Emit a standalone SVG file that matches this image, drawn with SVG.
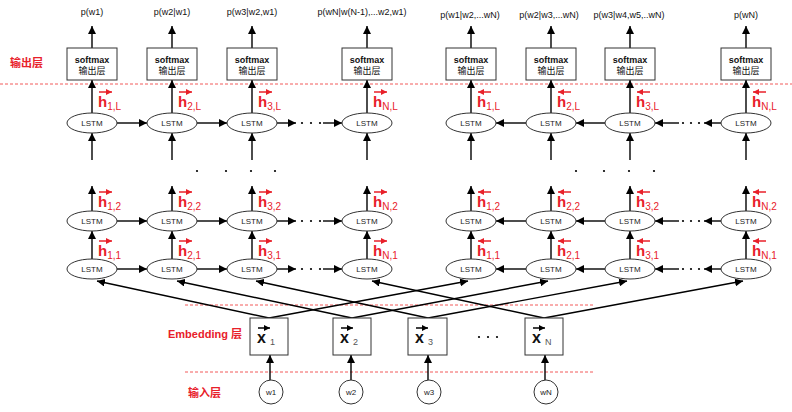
<svg xmlns="http://www.w3.org/2000/svg" width="792" height="412" viewBox="0 0 792 412">
<style>
text{font-family:"Liberation Sans","Noto Sans CJK SC",sans-serif}
.ell{fill:#fff;stroke:#333;stroke-width:1}
.box{fill:#fff;stroke:#333;stroke-width:1}
.lt{font-size:8px;fill:#222;text-anchor:middle}
.sm{font-size:9px;font-weight:bold;fill:#111;text-anchor:middle}
.cn{font-size:9px;fill:#111;text-anchor:middle;font-family:"Noto Sans CJK SC",sans-serif}
.pl{font-size:9px;fill:#111;text-anchor:middle}
.c{stroke:#000;stroke-width:1.4;fill:none;marker-end:url(#a)}
.h{font-size:15px;font-weight:bold;fill:#e8202a}
.hs{font-size:10px;font-weight:normal;fill:#e8202a}
.ha{stroke:#e8202a;stroke-width:1.5;fill:none;marker-end:url(#r)}
.xa{stroke:#000;stroke-width:1.5;fill:none;marker-end:url(#k)}
.rl{stroke:#f04848;stroke-width:0.9;stroke-dasharray:3,2;fill:none}
.lab{font-size:11px;font-weight:bold;fill:#e8202a;font-family:"Liberation Sans","Noto Sans CJK SC",sans-serif}
.dot{fill:#000}
</style>
<defs>
<marker id="a" viewBox="0 0 10 10" refX="10" refY="5" markerWidth="8" markerHeight="8" markerUnits="userSpaceOnUse" orient="auto"><path d="M0,0 L10,5 L0,10 z" fill="#000"/></marker>
<marker id="r" viewBox="0 0 10 10" refX="10" refY="5" markerWidth="6" markerHeight="6" markerUnits="userSpaceOnUse" orient="auto"><path d="M0,0 L10,5 L0,10 z" fill="#e8202a"/></marker>
<marker id="k" viewBox="0 0 10 10" refX="10" refY="5" markerWidth="6" markerHeight="6" markerUnits="userSpaceOnUse" orient="auto"><path d="M0,0 L10,5 L0,10 z" fill="#000"/></marker>
</defs>
<rect width="792" height="412" fill="#fff"/>

<!-- layer labels and dashed separators -->
<g id="layers">
<line class="rl" x1="0" y1="84" x2="792" y2="84"/>
<line class="rl" x1="185" y1="305" x2="593" y2="305"/>
<line class="rl" x1="185" y1="372" x2="593" y2="372"/>
<text class="lab" x="10" y="67">输出层</text>
<text class="lab" x="168" y="338">Embedding 层</text>
<text class="lab" x="188" y="397">输入层</text>
</g>

<!-- connectors -->
<g id="connectors">
<line class="c" x1="92" y1="48" x2="92" y2="26"/>
<line class="c" x1="172" y1="48" x2="172" y2="26"/>
<line class="c" x1="252" y1="48" x2="252" y2="26"/>
<line class="c" x1="367" y1="48" x2="367" y2="26"/>
<line class="c" x1="471" y1="48" x2="471" y2="26"/>
<line class="c" x1="551" y1="48" x2="551" y2="26"/>
<line class="c" x1="630" y1="48" x2="630" y2="26"/>
<line class="c" x1="746" y1="48" x2="746" y2="26"/>
<line class="c" x1="92" y1="113" x2="92" y2="80"/>
<line class="c" x1="172" y1="113" x2="172" y2="80"/>
<line class="c" x1="252" y1="113" x2="252" y2="80"/>
<line class="c" x1="367" y1="113" x2="367" y2="80"/>
<line class="c" x1="471" y1="113" x2="471" y2="80"/>
<line class="c" x1="551" y1="113" x2="551" y2="80"/>
<line class="c" x1="630" y1="113" x2="630" y2="80"/>
<line class="c" x1="746" y1="113" x2="746" y2="80"/>
<line class="c" x1="92" y1="160" x2="92" y2="133"/>
<line class="c" x1="172" y1="160" x2="172" y2="133"/>
<line class="c" x1="252" y1="160" x2="252" y2="133"/>
<line class="c" x1="367" y1="160" x2="367" y2="133"/>
<line class="c" x1="471" y1="160" x2="471" y2="133"/>
<line class="c" x1="551" y1="160" x2="551" y2="133"/>
<line class="c" x1="630" y1="160" x2="630" y2="133"/>
<line class="c" x1="746" y1="160" x2="746" y2="133"/>
<line class="c" x1="92" y1="211" x2="92" y2="186"/>
<line class="c" x1="172" y1="211" x2="172" y2="186"/>
<line class="c" x1="252" y1="211" x2="252" y2="186"/>
<line class="c" x1="367" y1="211" x2="367" y2="186"/>
<line class="c" x1="471" y1="211" x2="471" y2="186"/>
<line class="c" x1="551" y1="211" x2="551" y2="186"/>
<line class="c" x1="630" y1="211" x2="630" y2="186"/>
<line class="c" x1="746" y1="211" x2="746" y2="186"/>
<line class="c" x1="92" y1="259" x2="92" y2="231"/>
<line class="c" x1="172" y1="259" x2="172" y2="231"/>
<line class="c" x1="252" y1="259" x2="252" y2="231"/>
<line class="c" x1="367" y1="259" x2="367" y2="231"/>
<line class="c" x1="471" y1="259" x2="471" y2="231"/>
<line class="c" x1="551" y1="259" x2="551" y2="231"/>
<line class="c" x1="630" y1="259" x2="630" y2="231"/>
<line class="c" x1="746" y1="259" x2="746" y2="231"/>
<line class="c" x1="117" y1="123" x2="147" y2="123"/>
<line class="c" x1="197" y1="123" x2="227" y2="123"/>
<line class="c" x1="277" y1="123" x2="296" y2="123"/>
<line class="c" x1="323" y1="123" x2="342" y2="123"/>
<line class="c" x1="117" y1="221" x2="147" y2="221"/>
<line class="c" x1="197" y1="221" x2="227" y2="221"/>
<line class="c" x1="277" y1="221" x2="296" y2="221"/>
<line class="c" x1="323" y1="221" x2="342" y2="221"/>
<line class="c" x1="117" y1="269" x2="147" y2="269"/>
<line class="c" x1="197" y1="269" x2="227" y2="269"/>
<line class="c" x1="277" y1="269" x2="296" y2="269"/>
<line class="c" x1="323" y1="269" x2="342" y2="269"/>
<line class="c" x1="526" y1="123" x2="496" y2="123"/>
<line class="c" x1="605" y1="123" x2="576" y2="123"/>
<line class="c" x1="679" y1="123" x2="655" y2="123"/>
<line class="c" x1="721" y1="123" x2="704" y2="123"/>
<line class="c" x1="526" y1="221" x2="496" y2="221"/>
<line class="c" x1="605" y1="221" x2="576" y2="221"/>
<line class="c" x1="679" y1="221" x2="655" y2="221"/>
<line class="c" x1="721" y1="221" x2="704" y2="221"/>
<line class="c" x1="526" y1="269" x2="496" y2="269"/>
<line class="c" x1="605" y1="269" x2="576" y2="269"/>
<line class="c" x1="679" y1="269" x2="655" y2="269"/>
<line class="c" x1="721" y1="269" x2="704" y2="269"/>
<line class="c" x1="269" y1="318" x2="97" y2="281"/>
<line class="c" x1="269" y1="318" x2="468" y2="281"/>
<line class="c" x1="352" y1="318" x2="177" y2="281"/>
<line class="c" x1="352" y1="318" x2="548" y2="281"/>
<line class="c" x1="428" y1="318" x2="256" y2="281"/>
<line class="c" x1="428" y1="318" x2="627" y2="281"/>
<line class="c" x1="544" y1="318" x2="372" y2="281"/>
<line class="c" x1="544" y1="318" x2="743" y2="281"/>
<line class="c" x1="270" y1="380" x2="270" y2="355"/>
<line class="c" x1="351" y1="380" x2="351" y2="355"/>
<line class="c" x1="428" y1="380" x2="428" y2="355"/>
<line class="c" x1="545" y1="380" x2="545" y2="355"/>
</g>

<g id="dots">
<circle class="dot" cx="302" cy="123" r="1.1"/><circle class="dot" cx="311" cy="123" r="1.1"/><circle class="dot" cx="320" cy="123" r="1.1"/>
<circle class="dot" cx="302" cy="221" r="1.1"/><circle class="dot" cx="311" cy="221" r="1.1"/><circle class="dot" cx="320" cy="221" r="1.1"/>
<circle class="dot" cx="302" cy="269" r="1.1"/><circle class="dot" cx="311" cy="269" r="1.1"/><circle class="dot" cx="320" cy="269" r="1.1"/>
<circle class="dot" cx="683" cy="123" r="1.1"/><circle class="dot" cx="691" cy="123" r="1.1"/><circle class="dot" cx="699" cy="123" r="1.1"/>
<circle class="dot" cx="683" cy="221" r="1.1"/><circle class="dot" cx="691" cy="221" r="1.1"/><circle class="dot" cx="699" cy="221" r="1.1"/>
<circle class="dot" cx="683" cy="269" r="1.1"/><circle class="dot" cx="691" cy="269" r="1.1"/><circle class="dot" cx="699" cy="269" r="1.1"/>
<circle class="dot" cx="197" cy="171" r="1.1"/><circle class="dot" cx="226" cy="171" r="1.1"/><circle class="dot" cx="251" cy="171" r="1.1"/><circle class="dot" cx="275" cy="171" r="1.1"/>
<circle class="dot" cx="576" cy="171" r="1.1"/><circle class="dot" cx="604" cy="171" r="1.1"/><circle class="dot" cx="629" cy="171" r="1.1"/><circle class="dot" cx="654" cy="171" r="1.1"/>
<circle class="dot" cx="479" cy="337" r="1.1"/><circle class="dot" cx="488" cy="337" r="1.1"/><circle class="dot" cx="497" cy="337" r="1.1"/>
</g>

<g id="outputs">
<text class="pl" x="92" y="15">p(w1)</text>
<text class="pl" x="172" y="15">p(w2|w1)</text>
<text class="pl" x="252" y="15">p(w3|w2,w1)</text>
<text class="pl" x="362" y="15">p(wN|w(N-1),...w2,w1)</text>
<text class="pl" x="470" y="18">p(w1|w2,...wN)</text>
<text class="pl" x="549" y="18">p(w2|w3,...wN)</text>
<text class="pl" x="629" y="18">p(w3|w4,w5,..wN)</text>
<text class="pl" x="746" y="18">p(wN)</text>
</g>

<g id="softmax_f1"><rect class="box" x="67" y="48" width="50" height="32"/><text class="sm" x="92" y="63">softmax</text><text class="cn" x="92" y="74">输出层</text></g>
<g id="softmax_f2"><rect class="box" x="147" y="48" width="50" height="32"/><text class="sm" x="172" y="63">softmax</text><text class="cn" x="172" y="74">输出层</text></g>
<g id="softmax_f3"><rect class="box" x="227" y="48" width="50" height="32"/><text class="sm" x="252" y="63">softmax</text><text class="cn" x="252" y="74">输出层</text></g>
<g id="softmax_fN"><rect class="box" x="342" y="48" width="50" height="32"/><text class="sm" x="367" y="63">softmax</text><text class="cn" x="367" y="74">输出层</text></g>
<g id="softmax_b1"><rect class="box" x="446" y="48" width="50" height="32"/><text class="sm" x="471" y="63">softmax</text><text class="cn" x="471" y="74">输出层</text></g>
<g id="softmax_b2"><rect class="box" x="526" y="48" width="50" height="32"/><text class="sm" x="551" y="63">softmax</text><text class="cn" x="551" y="74">输出层</text></g>
<g id="softmax_b3"><rect class="box" x="605" y="48" width="50" height="32"/><text class="sm" x="630" y="63">softmax</text><text class="cn" x="630" y="74">输出层</text></g>
<g id="softmax_bN"><rect class="box" x="721" y="48" width="50" height="32"/><text class="sm" x="746" y="63">softmax</text><text class="cn" x="746" y="74">输出层</text></g>

<g id="lstm_fL_1"><ellipse class="ell" cx="92" cy="123" rx="25" ry="10"/><text class="lt" x="92" y="126">LSTM</text></g>
<g id="lstm_fL_2"><ellipse class="ell" cx="172" cy="123" rx="25" ry="10"/><text class="lt" x="172" y="126">LSTM</text></g>
<g id="lstm_fL_3"><ellipse class="ell" cx="252" cy="123" rx="25" ry="10"/><text class="lt" x="252" y="126">LSTM</text></g>
<g id="lstm_fL_N"><ellipse class="ell" cx="367" cy="123" rx="25" ry="10"/><text class="lt" x="367" y="126">LSTM</text></g>
<g id="lstm_bL_1"><ellipse class="ell" cx="471" cy="123" rx="25" ry="10"/><text class="lt" x="471" y="126">LSTM</text></g>
<g id="lstm_bL_2"><ellipse class="ell" cx="551" cy="123" rx="25" ry="10"/><text class="lt" x="551" y="126">LSTM</text></g>
<g id="lstm_bL_3"><ellipse class="ell" cx="630" cy="123" rx="25" ry="10"/><text class="lt" x="630" y="126">LSTM</text></g>
<g id="lstm_bL_N"><ellipse class="ell" cx="746" cy="123" rx="25" ry="10"/><text class="lt" x="746" y="126">LSTM</text></g>

<g id="lstm_f2_1"><ellipse class="ell" cx="92" cy="221" rx="25" ry="10"/><text class="lt" x="92" y="224">LSTM</text></g>
<g id="lstm_f2_2"><ellipse class="ell" cx="172" cy="221" rx="25" ry="10"/><text class="lt" x="172" y="224">LSTM</text></g>
<g id="lstm_f2_3"><ellipse class="ell" cx="252" cy="221" rx="25" ry="10"/><text class="lt" x="252" y="224">LSTM</text></g>
<g id="lstm_f2_N"><ellipse class="ell" cx="367" cy="221" rx="25" ry="10"/><text class="lt" x="367" y="224">LSTM</text></g>
<g id="lstm_b2_1"><ellipse class="ell" cx="471" cy="221" rx="25" ry="10"/><text class="lt" x="471" y="224">LSTM</text></g>
<g id="lstm_b2_2"><ellipse class="ell" cx="551" cy="221" rx="25" ry="10"/><text class="lt" x="551" y="224">LSTM</text></g>
<g id="lstm_b2_3"><ellipse class="ell" cx="630" cy="221" rx="25" ry="10"/><text class="lt" x="630" y="224">LSTM</text></g>
<g id="lstm_b2_N"><ellipse class="ell" cx="746" cy="221" rx="25" ry="10"/><text class="lt" x="746" y="224">LSTM</text></g>

<g id="lstm_f1_1"><ellipse class="ell" cx="92" cy="269" rx="25" ry="10"/><text class="lt" x="92" y="272">LSTM</text></g>
<g id="lstm_f1_2"><ellipse class="ell" cx="172" cy="269" rx="25" ry="10"/><text class="lt" x="172" y="272">LSTM</text></g>
<g id="lstm_f1_3"><ellipse class="ell" cx="252" cy="269" rx="25" ry="10"/><text class="lt" x="252" y="272">LSTM</text></g>
<g id="lstm_f1_N"><ellipse class="ell" cx="367" cy="269" rx="25" ry="10"/><text class="lt" x="367" y="272">LSTM</text></g>
<g id="lstm_b1_1"><ellipse class="ell" cx="471" cy="269" rx="25" ry="10"/><text class="lt" x="471" y="272">LSTM</text></g>
<g id="lstm_b1_2"><ellipse class="ell" cx="551" cy="269" rx="25" ry="10"/><text class="lt" x="551" y="272">LSTM</text></g>
<g id="lstm_b1_3"><ellipse class="ell" cx="630" cy="269" rx="25" ry="10"/><text class="lt" x="630" y="272">LSTM</text></g>
<g id="lstm_b1_N"><ellipse class="ell" cx="746" cy="269" rx="25" ry="10"/><text class="lt" x="746" y="272">LSTM</text></g>

<g id="h_forward">
<line class="ha" x1="99" y1="92" x2="112" y2="92"/><text class="h" x="98" y="107">h<tspan class="hs" dy="3">1,L</tspan></text>
<line class="ha" x1="179" y1="92" x2="192" y2="92"/><text class="h" x="178" y="107">h<tspan class="hs" dy="3">2,L</tspan></text>
<line class="ha" x1="259" y1="92" x2="272" y2="92"/><text class="h" x="258" y="107">h<tspan class="hs" dy="3">3,L</tspan></text>
<line class="ha" x1="374" y1="92" x2="387" y2="92"/><text class="h" x="373" y="107">h<tspan class="hs" dy="3">N,L</tspan></text>
<line class="ha" x1="99" y1="192" x2="112" y2="192"/><text class="h" x="98" y="207">h<tspan class="hs" dy="3">1,2</tspan></text>
<line class="ha" x1="179" y1="192" x2="192" y2="192"/><text class="h" x="178" y="207">h<tspan class="hs" dy="3">2,2</tspan></text>
<line class="ha" x1="259" y1="192" x2="272" y2="192"/><text class="h" x="258" y="207">h<tspan class="hs" dy="3">3,2</tspan></text>
<line class="ha" x1="374" y1="192" x2="387" y2="192"/><text class="h" x="373" y="207">h<tspan class="hs" dy="3">N,2</tspan></text>
<line class="ha" x1="99" y1="241" x2="112" y2="241"/><text class="h" x="98" y="256">h<tspan class="hs" dy="3">1,1</tspan></text>
<line class="ha" x1="179" y1="241" x2="192" y2="241"/><text class="h" x="178" y="256">h<tspan class="hs" dy="3">2,1</tspan></text>
<line class="ha" x1="259" y1="241" x2="272" y2="241"/><text class="h" x="258" y="256">h<tspan class="hs" dy="3">3,1</tspan></text>
<line class="ha" x1="374" y1="241" x2="387" y2="241"/><text class="h" x="373" y="256">h<tspan class="hs" dy="3">N,1</tspan></text>
</g>
<g id="h_backward">
<line class="ha" x1="491" y1="92" x2="478" y2="92"/><text class="h" x="477" y="107">h<tspan class="hs" dy="3">1,L</tspan></text>
<line class="ha" x1="571" y1="92" x2="558" y2="92"/><text class="h" x="557" y="107">h<tspan class="hs" dy="3">2,L</tspan></text>
<line class="ha" x1="650" y1="92" x2="637" y2="92"/><text class="h" x="636" y="107">h<tspan class="hs" dy="3">3,L</tspan></text>
<line class="ha" x1="766" y1="92" x2="753" y2="92"/><text class="h" x="752" y="107">h<tspan class="hs" dy="3">N,L</tspan></text>
<line class="ha" x1="491" y1="192" x2="478" y2="192"/><text class="h" x="477" y="207">h<tspan class="hs" dy="3">1,2</tspan></text>
<line class="ha" x1="571" y1="192" x2="558" y2="192"/><text class="h" x="557" y="207">h<tspan class="hs" dy="3">2,2</tspan></text>
<line class="ha" x1="650" y1="192" x2="637" y2="192"/><text class="h" x="636" y="207">h<tspan class="hs" dy="3">3,2</tspan></text>
<line class="ha" x1="766" y1="192" x2="753" y2="192"/><text class="h" x="752" y="207">h<tspan class="hs" dy="3">N,2</tspan></text>
<line class="ha" x1="491" y1="241" x2="478" y2="241"/><text class="h" x="477" y="256">h<tspan class="hs" dy="3">1,1</tspan></text>
<line class="ha" x1="571" y1="241" x2="558" y2="241"/><text class="h" x="557" y="256">h<tspan class="hs" dy="3">2,1</tspan></text>
<line class="ha" x1="650" y1="241" x2="637" y2="241"/><text class="h" x="636" y="256">h<tspan class="hs" dy="3">3,1</tspan></text>
<line class="ha" x1="766" y1="241" x2="753" y2="241"/><text class="h" x="752" y="256">h<tspan class="hs" dy="3">N,1</tspan></text>
</g>

<g id="x1"><rect class="box" x="250" y="318" width="38" height="37"/><line class="xa" x1="258" y1="328" x2="270" y2="328"/><text x="257" y="343" font-size="16" font-weight="bold" fill="#111">x</text><text x="270" y="345" font-size="9" fill="#555">1</text></g>
<g id="x2"><rect class="box" x="333" y="318" width="38" height="37"/><line class="xa" x1="341" y1="328" x2="353" y2="328"/><text x="340" y="343" font-size="16" font-weight="bold" fill="#111">x</text><text x="353" y="345" font-size="9" fill="#555">2</text></g>
<g id="x3"><rect class="box" x="408" y="318" width="39" height="37"/><line class="xa" x1="416" y1="328" x2="428" y2="328"/><text x="415" y="343" font-size="16" font-weight="bold" fill="#111">x</text><text x="428" y="345" font-size="9" fill="#555">3</text></g>
<g id="xN"><rect class="box" x="525" y="318" width="38" height="37"/><line class="xa" x1="533" y1="328" x2="545" y2="328"/><text x="532" y="343" font-size="16" font-weight="bold" fill="#111">x</text><text x="545" y="345" font-size="9" fill="#555">N</text></g>

<g id="w1"><circle cx="271" cy="392" r="12" fill="#fff" stroke="#333"/><text class="lt" x="271" y="395" fill="#444">w1</text></g>
<g id="w2"><circle cx="351" cy="392" r="12" fill="#fff" stroke="#333"/><text class="lt" x="351" y="395" fill="#444">w2</text></g>
<g id="w3"><circle cx="429" cy="392" r="12" fill="#fff" stroke="#333"/><text class="lt" x="429" y="395" fill="#444">w3</text></g>
<g id="wN"><circle cx="546" cy="392" r="12" fill="#fff" stroke="#333"/><text class="lt" x="546" y="395" fill="#444">wN</text></g>
</svg>
